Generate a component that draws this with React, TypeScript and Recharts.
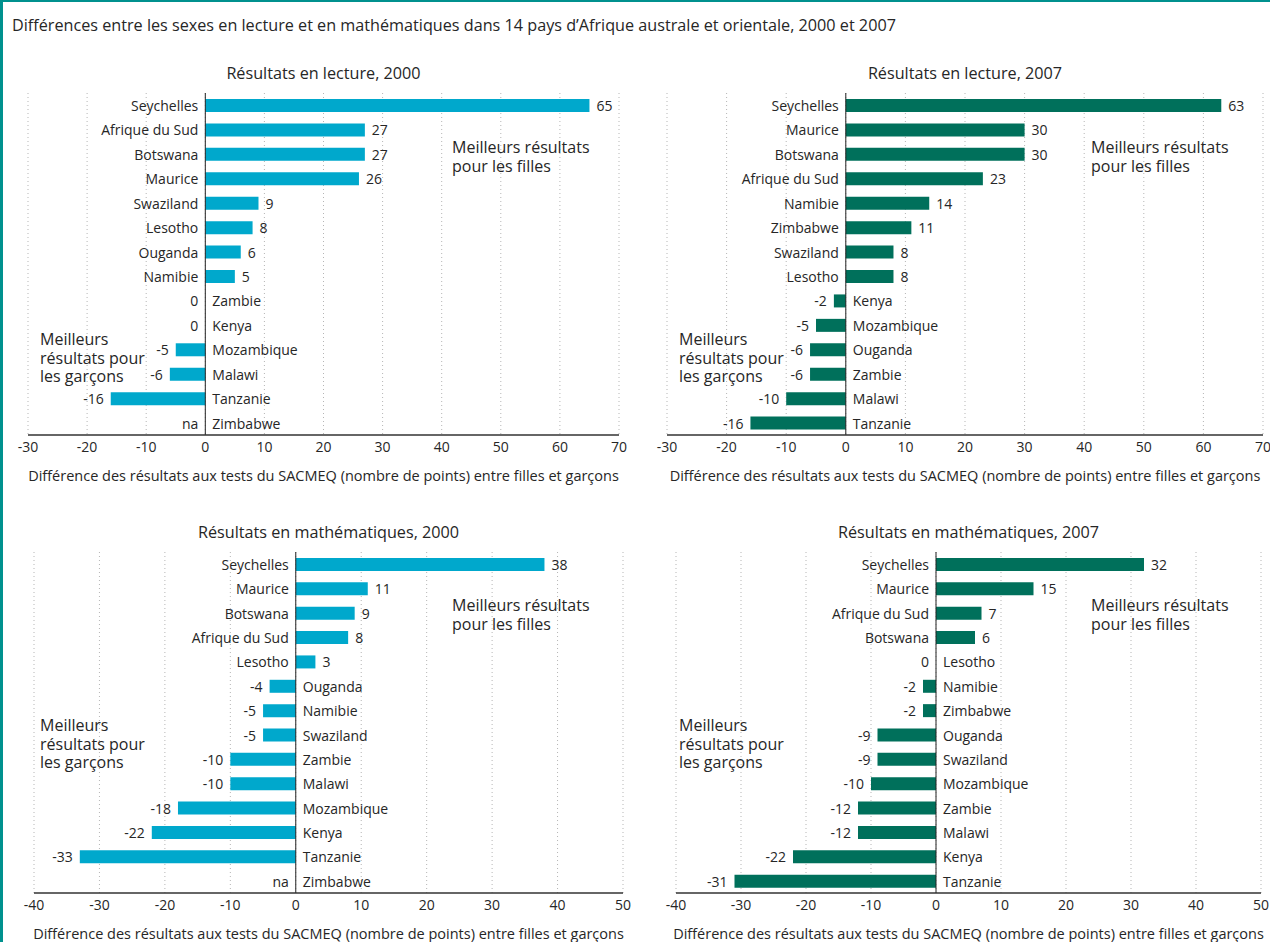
import { BarChart, Bar, XAxis, YAxis, CartesianGrid, ReferenceLine, LabelList } from "recharts";

const FONT = '"Open Sans", sans-serif';
const TEXT = "#262626";
const CYAN = "#00a8cc";
const GREEN = "#00705b";

const lecture2000Countries = ["Seychelles", "Afrique du Sud", "Botswana", "Maurice", "Swaziland", "Lesotho", "Ouganda", "Namibie", "Zambie", "Kenya", "Mozambique", "Malawi", "Tanzanie", "Zimbabwe"];
const lecture2000Values: (number | null)[] = [65, 27, 27, 26, 9, 8, 6, 5, 0, 0, -5, -6, -16, null];

const lecture2007Countries = ["Seychelles", "Maurice", "Botswana", "Afrique du Sud", "Namibie", "Zimbabwe", "Swaziland", "Lesotho", "Kenya", "Mozambique", "Ouganda", "Zambie", "Malawi", "Tanzanie"];
const lecture2007Values: (number | null)[] = [63, 30, 30, 23, 14, 11, 8, 8, -2, -5, -6, -6, -10, -16];

const maths2000Countries = ["Seychelles", "Maurice", "Botswana", "Afrique du Sud", "Lesotho", "Ouganda", "Namibie", "Swaziland", "Zambie", "Malawi", "Mozambique", "Kenya", "Tanzanie", "Zimbabwe"];
const maths2000Values: (number | null)[] = [38, 11, 9, 8, 3, -4, -5, -5, -10, -10, -18, -22, -33, null];

const maths2007Countries = ["Seychelles", "Maurice", "Afrique du Sud", "Botswana", "Lesotho", "Namibie", "Zimbabwe", "Ouganda", "Swaziland", "Mozambique", "Zambie", "Malawi", "Kenya", "Tanzanie"];
const maths2007Values: (number | null)[] = [32, 15, 7, 6, 0, -2, -2, -9, -9, -10, -12, -12, -22, -31];

const lectureTicks = [-30, -20, -10, 0, 10, 20, 30, 40, 50, 60, 70];
const mathsTicks = [-40, -30, -20, -10, 0, 10, 20, 30, 40, 50];

const MAIN_TITLE = "Différences entre les sexes en lecture et en mathématiques dans 14 pays d’Afrique australe et orientale, 2000 et 2007";
const AXIS_TITLE = "Différence des résultats aux tests du SACMEQ (nombre de points) entre filles et garçons";
const GIRLS = ["Meilleurs résultats", "pour les filles"];
const BOYS = ["Meilleurs", "résultats pour", "les garçons"];

interface PanelProps {
  title: string;
  countries: string[];
  values: (number | null)[];
  ticks: number[];
  color: string;
  left: number;
  top: number;
  width: number;
  height: number;
  margin: { top: number; right: number; bottom: number; left: number };
  girlsAt: [number, number];
  boysAt: [number, number];
}

// country name on one side of the zero line, value on the other
const labelRenderer = (countries: string[], values: (number | null)[]) => (props: any) => {
  const { x, y, width, height, value } = props;
  const i = countries.indexOf(String(value));
  if (i < 0) return null;
  const v = values[i];
  const a = Number(x);
  const w = Number(width) || 0;
  const lo = Math.min(a, a + w);
  const hi = Math.max(a, a + w);
  const cy = Number(y) + Number(height) / 2;
  const pos = v !== null && v > 0;
  const zero = pos ? lo : hi;
  const end = pos ? hi : lo;
  const style = { fontFamily: FONT, fontSize: 14, fill: TEXT };
  return (
    <g key={`lbl-${i}`}>
      <text x={pos ? zero - 7 : zero + 7} y={cy} textAnchor={pos ? "end" : "start"} dominantBaseline="central" style={style}>
        {countries[i]}
      </text>
      <text x={pos ? end + 7 : end - 7} y={cy} textAnchor={pos ? "start" : "end"} dominantBaseline="central" style={style}>
        {v === null ? "na" : v}
      </text>
    </g>
  );
};

function Note({ lines, at }: { lines: string[]; at: [number, number] }) {
  return (
    <div style={{ position: "absolute", left: at[0], top: at[1], fontSize: 16, lineHeight: "18.6px", color: TEXT, whiteSpace: "nowrap" }}>
      {lines.map((l) => (
        <div key={l}>{l}</div>
      ))}
    </div>
  );
}

function Panel(p: PanelProps) {
  const data = p.countries.map((c, i) => ({ name: c, value: p.values[i] ?? 0 }));
  const plotLeft = p.left + p.margin.left;
  const plotRight = p.left + p.width - p.margin.right;
  return (
    <>
      <div
        style={{
          position: "absolute",
          left: plotLeft,
          width: plotRight - plotLeft,
          top: p.top + p.margin.top - 31,
          textAlign: "center",
          fontSize: 16.2,
          color: TEXT,
          whiteSpace: "nowrap",
        }}
      >
        {p.title}
      </div>
      <div style={{ position: "absolute", left: p.left, top: p.top }}>
        <BarChart width={p.width} height={p.height} data={data} layout="vertical" margin={p.margin} barSize={13}>
          <CartesianGrid horizontal={false} stroke="#b5b5b5" strokeDasharray="1 3" />
          <XAxis
            type="number"
            domain={[p.ticks[0], p.ticks[p.ticks.length - 1]]}
            ticks={p.ticks}
            interval={0}
            height={48}
            axisLine={{ stroke: "#333", strokeWidth: 1.5 }}
            tickLine={false}
            tickSize={5}
            tick={{ fill: TEXT, fontSize: 14, fontFamily: FONT }}
            label={{ value: AXIS_TITLE, position: "insideBottom", offset: 2, fill: TEXT, fontSize: 14.5, fontFamily: FONT }}
          />
          <YAxis type="category" dataKey="name" hide />
          <ReferenceLine x={0} stroke="#222" strokeWidth={1} />
          <Bar dataKey="value" fill={p.color} minPointSize={0.01} isAnimationActive={false}>
            <LabelList dataKey="name" content={labelRenderer(p.countries, p.values)} />
          </Bar>
        </BarChart>
      </div>
      <Note lines={GIRLS} at={p.girlsAt} />
      <Note lines={BOYS} at={p.boysAt} />
    </>
  );
}

export default function App() {
  return (
    <div
      style={{
        position: "absolute",
        left: 0,
        top: 0,
        width: 1270,
        height: 942,
        background: "#fff",
        overflow: "hidden",
        fontFamily: FONT,
        boxSizing: "border-box",
        borderTop: "2px solid #00918e",
        borderLeft: "3px solid #00918e",
      }}
    >
      <div style={{ position: "absolute", left: 0, top: 0, width: 1270, height: 942 }}>
        <div style={{ position: "absolute", left: 9, top: 12, fontSize: 16.2, color: TEXT, whiteSpace: "nowrap" }}>{MAIN_TITLE}</div>
        <Panel
          title="Résultats en lecture, 2000"
          countries={lecture2000Countries}
          values={lecture2000Values}
          ticks={lectureTicks}
          color={CYAN}
          left={-3}
          top={-2}
          width={640}
          height={500}
          margin={{ top: 93, right: 21, bottom: 17, left: 28 }}
          girlsAt={[449, 136]}
          boysAt={[37, 328]}
        />
        <Panel
          title="Résultats en lecture, 2007"
          countries={lecture2007Countries}
          values={lecture2007Values}
          ticks={lectureTicks}
          color={GREEN}
          left={637}
          top={-2}
          width={633}
          height={500}
          margin={{ top: 93, right: 10, bottom: 17, left: 27 }}
          girlsAt={[1088, 136]}
          boysAt={[676, 328]}
        />
        <Panel
          title="Résultats en mathématiques, 2000"
          countries={maths2000Countries}
          values={maths2000Values}
          ticks={mathsTicks}
          color={CYAN}
          left={-3}
          top={458}
          width={640}
          height={484}
          margin={{ top: 92, right: 17, bottom: 3, left: 34 }}
          girlsAt={[449, 594]}
          boysAt={[37, 714]}
        />
        <Panel
          title="Résultats en mathématiques, 2007"
          countries={maths2007Countries}
          values={maths2007Values}
          ticks={mathsTicks}
          color={GREEN}
          left={637}
          top={458}
          width={633}
          height={484}
          margin={{ top: 92, right: 12, bottom: 3, left: 36 }}
          girlsAt={[1088, 594]}
          boysAt={[676, 714]}
        />
      </div>
    </div>
  );
}
